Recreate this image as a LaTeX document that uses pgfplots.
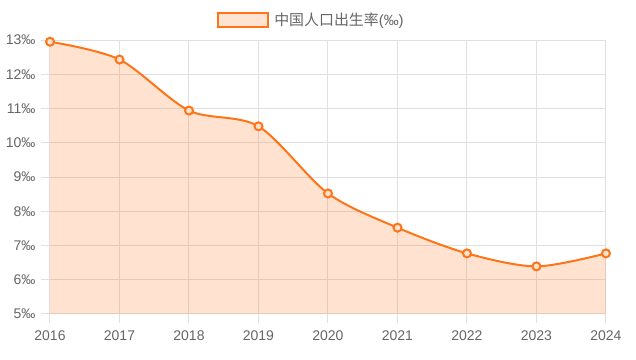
\documentclass[border=0pt]{standalone}
\usepackage{fontspec}
\setmainfont{Liberation Sans}
\newfontfamily\cjk{Noto Sans CJK SC}
\usepackage{pgfplots}
\pgfplotsset{compat=1.18}
\definecolor{lineC}{RGB}{255,116,23}
\definecolor{fillC}{RGB}{254,227,210}
\definecolor{gridC}{RGB}{224,224,224}
\definecolor{txtC}{RGB}{102,102,102}
\pgfplotstableread{
year rate
2016 12.95
2017 12.43
2018 10.94
2019 10.48
2020 8.52
2021 7.52
2022 6.77
2023 6.39
2024 6.77
}\birth
\begin{document}
\begin{tikzpicture}
\path[use as bounding box, fill=white] (0pt,0pt) rectangle (477pt,270pt);
\begin{axis}[
  at={(37.5pt,34.5pt)}, anchor=south west, scale only axis,
  width=417pt, height=205.5pt,
  xmin=2016, xmax=2024, ymin=5, ymax=13,
  xtick={2016,...,2024}, ytick={5,...,13},
  xticklabels={2016,2017,2018,2019,2020,2021,2022,2023,2024},
  yticklabel={\pgfmathprintnumber{\tick}‰},
  /pgf/number format/assume math mode=true,
  grid=major, major grid style={gridC, line width=0.75pt},
  axis line style={gridC, line width=0.75pt},
  tick align=outside, major tick length=7pt, tick pos=left,
  tick style={gridC, line width=0.75pt},
  tick label style={txtC, font=\fontsize{10.5}{12}\selectfont},
  x tick label style={yshift=-2pt},
  y tick label style={xshift=-0.5pt},
  legend style={at={(axis description cs:0.473,1)}, anchor=south, yshift=5pt,
    draw=none, fill=none, font=\fontsize{11.2}{13}\selectfont\color{txtC},
    nodes={inner xsep=4pt}},
  legend cell align=left,
]
\addplot[draw=none, fill=lineC, fill opacity=0.2, smooth, forget plot] table[x=year,y=rate] {\birth} \closedcycle;
\addplot[lineC, line width=1.5pt, smooth, mark=*, mark size=3pt,
  mark options={fill=fillC, draw=lineC, line width=1.5pt},
  legend image code/.code={\draw[lineC, fill=fillC, line width=1.5pt] (0pt,-5.3pt) rectangle (37.5pt,5.3pt);}
] table[x=year,y=rate] {\birth};
\addlegendentry{{\cjk 中国人口出生率}(‰)}
\end{axis}
\end{tikzpicture}
\end{document}
